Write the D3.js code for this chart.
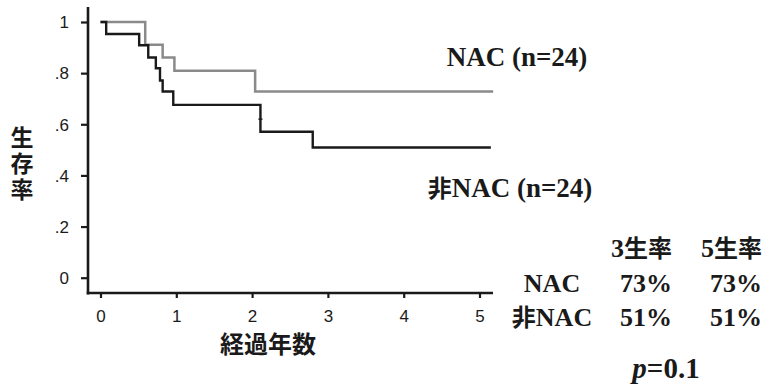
<!DOCTYPE html>
<html>
<head>
<meta charset="utf-8">
<script src="https://cdn.jsdelivr.net/npm/d3@7"></script>
<style>
  html, body { margin: 0; padding: 0; background: #fff; }
  svg { display: block; }
</style>
</head>
<body>
<svg id="chart" width="769" height="392"></svg>
<script>
// ---- Data ----
const xTicks = [0, 1, 2, 3, 4, 5];
const yTicks = [0, 0.2, 0.4, 0.6, 0.8, 1];
const yTickLabels = ["0", ".2", ".4", ".6", ".8", "1"];

// NAC (gray) step curve: event times and survival after each step
const nacTimes  = [0, 0.59, 0.82, 0.975, 2.04, 5.18];
const nacValues = [1, 0.911, 0.861, 0.809, 0.728, 0.728];

// 非NAC (black) step curve
const nonTimes  = [0, 0.075, 0.51, 0.63, 0.73, 0.785, 0.82, 0.96, 2.11, 2.80, 5.15];
const nonValues = [1, 0.953, 0.909, 0.861, 0.819, 0.771, 0.728, 0.676, 0.571, 0.509, 0.509];
const nonCensorTimes = [2.11];
const nonCensorValues = [0.62];

const tableHeaders = ["3", "5"];
const tableRows = ["NAC", "非NAC"];
const rate3 = ["73%", "51%"];
const rate5 = ["73%", "51%"];

// ---- Layout ----
const svg = d3.select("#chart");
const x = d3.scaleLinear().domain([0, 5]).range([100.5, 479.5]);
const y = d3.scaleLinear().domain([0, 1]).range([277.7, 22]);

const serif = "'Liberation Serif', 'DejaVu Serif', serif";
const cjk = "'Noto Sans CJK JP', 'Noto Sans CJK SC', sans-serif";
const sans = "'Liberation Sans', Arial, sans-serif";

// Y axis
const yAxis = d3.axisLeft(y).tickValues(yTicks).tickSize(7)
  .tickFormat((d, i) => yTickLabels[i]);
const gy = svg.append("g").attr("transform", "translate(88,0)").call(yAxis)
  .attr("font-family", sans).attr("font-size", 17);
gy.select(".domain").remove();
gy.selectAll(".tick line").attr("stroke", "#1a1a1a").attr("stroke-width", 2.2);
gy.selectAll(".tick text").style("font-family", sans).style("font-size", "17px")
  .attr("fill", "#1a1a1a").attr("x", -19).attr("dy", "0.34em");
svg.append("line").attr("x1", 88).attr("x2", 88).attr("y1", 7).attr("y2", 294.5)
  .attr("stroke", "#1a1a1a").attr("stroke-width", 2.6);

// X axis
const xAxis = d3.axisBottom(x).tickValues(xTicks).tickSize(5).tickFormat(d3.format("d"));
const gx = svg.append("g").attr("transform", "translate(0,293)").call(xAxis)
  .attr("font-family", sans).attr("font-size", 17);
gx.select(".domain").remove();
gx.selectAll(".tick line").attr("stroke", "#1a1a1a").attr("stroke-width", 2.2);
gx.selectAll(".tick text").style("font-family", sans).style("font-size", "17px")
  .attr("fill", "#1a1a1a").attr("y", 17);
svg.append("line").attr("x1", 86.7).attr("x2", 493).attr("y1", 293).attr("y2", 293)
  .attr("stroke", "#1a1a1a").attr("stroke-width", 2.6);

// Step lines
const line = d3.line().x(d => x(d[0])).y(d => y(d[1])).curve(d3.curveStepAfter);
svg.append("path").datum(d3.zip(nacTimes, nacValues))
  .attr("d", line).attr("fill", "none").attr("stroke", "#8a8a8a").attr("stroke-width", 2.5);
svg.append("path").datum(d3.zip(nonTimes, nonValues))
  .attr("d", line).attr("fill", "none").attr("stroke", "#1a1a1a").attr("stroke-width", 2.4);
svg.selectAll(".censor").data(d3.zip(nonCensorTimes, nonCensorValues)).enter()
  .append("line").attr("class", "censor")
  .attr("x1", d => x(d[0]) - 2).attr("x2", d => x(d[0]) + 2)
  .attr("y1", d => y(d[1])).attr("y2", d => y(d[1]))
  .attr("stroke", "#1a1a1a").attr("stroke-width", 1.5);

// Axis titles
svg.append("text").attr("x", 22).attr("y", 126)
  .style("writing-mode", "vertical-rl").style("letter-spacing", "3px")
  .attr("font-family", cjk).attr("font-weight", 700)
  .attr("font-size", 23).attr("fill", "#1a1a1a").text("生存率");
svg.append("text").attr("x", 268).attr("y", 353).attr("text-anchor", "middle")
  .attr("font-family", cjk).attr("font-weight", 700).attr("font-size", 24)
  .attr("fill", "#1a1a1a").text("経過年数");

// Series labels
svg.append("text").attr("x", 517).attr("y", 66).attr("text-anchor", "middle")
  .attr("font-family", serif).attr("font-weight", 700).attr("font-size", 27)
  .attr("fill", "#1a1a1a").text("NAC (n=24)");
const l2 = svg.append("text").attr("x", 510).attr("y", 197).attr("text-anchor", "middle")
  .attr("font-weight", 700).attr("fill", "#1a1a1a");
l2.append("tspan").attr("font-family", cjk).attr("font-size", 24).text("非");
l2.append("tspan").attr("font-family", serif).attr("font-size", 27).text("NAC (n=24)");

// Table
const colRight = [672, 762];
const rowY = [292, 326];
tableHeaders.forEach((h, j) => {
  const t = svg.append("text").attr("x", colRight[j]).attr("y", 257)
    .attr("text-anchor", "end").attr("font-weight", 700).attr("fill", "#1a1a1a");
  t.append("tspan").attr("font-family", serif).attr("font-size", 26).text(h);
  t.append("tspan").attr("font-family", cjk).attr("font-size", 24).text("生率");
});
tableRows.forEach((r, i) => {
  const t = svg.append("text").attr("x", 552).attr("y", rowY[i])
    .attr("text-anchor", "middle").attr("font-weight", 700).attr("fill", "#1a1a1a");
  if (r.startsWith("非")) {
    t.append("tspan").attr("font-family", cjk).attr("font-size", 24).text("非");
    t.append("tspan").attr("font-family", serif).attr("font-size", 26).text(r.slice(1));
  } else {
    t.append("tspan").attr("font-family", serif).attr("font-size", 26).text(r);
  }
  [rate3[i], rate5[i]].forEach((v, j) => {
    svg.append("text").attr("x", colRight[j]).attr("y", rowY[i])
      .attr("text-anchor", "end").attr("font-family", serif).attr("font-weight", 700)
      .attr("font-size", 26).attr("fill", "#1a1a1a").text(v);
  });
});

// p-value
const p = svg.append("text").attr("x", 666).attr("y", 378).attr("text-anchor", "middle")
  .attr("font-family", serif).attr("font-weight", 700).attr("font-size", 29).attr("fill", "#1a1a1a");
p.append("tspan").attr("font-style", "italic").text("p");
p.append("tspan").text("=0.1");
</script>
</body>
</html>
